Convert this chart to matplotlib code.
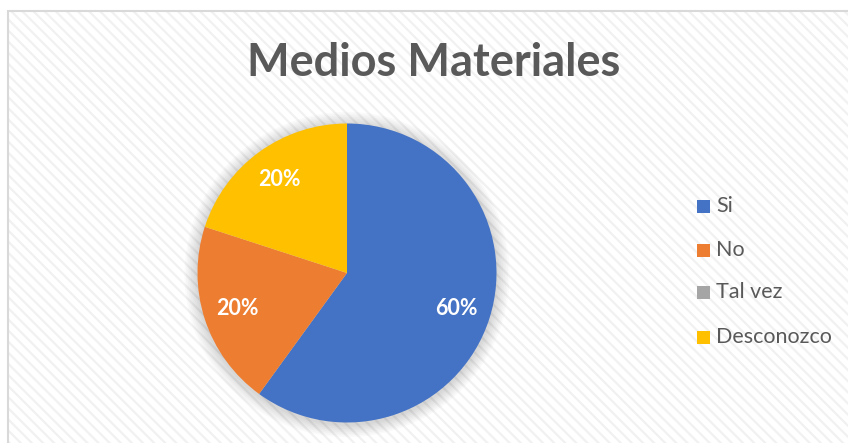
import matplotlib.pyplot as plt
from matplotlib.patches import Rectangle, Circle

# Data
labels = ["Si", "No", "Tal vez", "Desconozco"]
values = [60, 20, 0, 20]
colors = ["#4472C4", "#ED7D31", "#A5A5A5", "#FFC000"]

plt.rcParams['font.family'] = ['Lato', 'DejaVu Sans']
plt.rcParams['hatch.linewidth'] = 1.6

fig = plt.figure(figsize=(8.48, 4.43), dpi=100)
fig.patch.set_facecolor('white')

# chart area frame with diagonal stripes
W, H = 848, 443
bg = Rectangle((8 / W, -0.05), 1.0, 1 - 11.5 / H + 0.05, transform=fig.transFigure,
               facecolor='white', edgecolor='#f1f1f1', linewidth=0, hatch='\\\\\\',
               zorder=-2)
fig.patches.append(bg)
frame = Rectangle((8 / W, -0.05), 1.0, 1 - 11.5 / H + 0.05, transform=fig.transFigure,
                  facecolor='none', edgecolor='#d9d9d9', linewidth=1.5, zorder=-1)
fig.patches.append(frame)

# title
fig.text(434 / W, 1 - 63 / H, "Medios Materiales", ha='center', va='center',
         fontsize=32.5, fontweight='bold', color='#595959')

# pie axes
cx, cy, r = 347, 273, 149.5
ax = fig.add_axes([(cx - r) / W, (H - cy - r) / H, 2 * r / W, 2 * r / H])
ax.patch.set_visible(False)
ax.axis('off')

# soft shadow
for i in range(8):
    ax.add_patch(Circle((0, -0.01), 1.0 + 0.011 * (i + 1), facecolor='black',
                        edgecolor='none', alpha=0.02, zorder=0, clip_on=False))


def fmt(p):
    return f"{p:.0f}%" if p > 0 else ""


wedges, texts, autotexts = ax.pie(values, colors=colors, startangle=90, counterclock=False,
                                  autopct=fmt, pctdistance=0.77, radius=1.0,
                                  wedgeprops=dict(linewidth=0),
                                  textprops=dict(color='white', fontsize=15.5, fontweight='bold'))
for w in wedges:
    w.set_zorder(2)
for t in autotexts:
    t.set_zorder(3)
ax.set_aspect('auto')
ax.set_xlim(-1, 1)
ax.set_ylim(-1, 1)

# legend
legend_y = [206, 250, 292, 337]
for lab, col, ly in zip(labels, colors, legend_y):
    fig.patches.append(Rectangle((697 / W, 1 - (ly + 6.5) / H), 13 / W, 13 / H,
                                 transform=fig.transFigure, facecolor=col,
                                 edgecolor='none', zorder=3))
    fig.text(716 / W, 1 - ly / H, lab, ha='left', va='center', fontsize=15.5,
             color='#595959')

fig.savefig("out.png", dpi=100)
